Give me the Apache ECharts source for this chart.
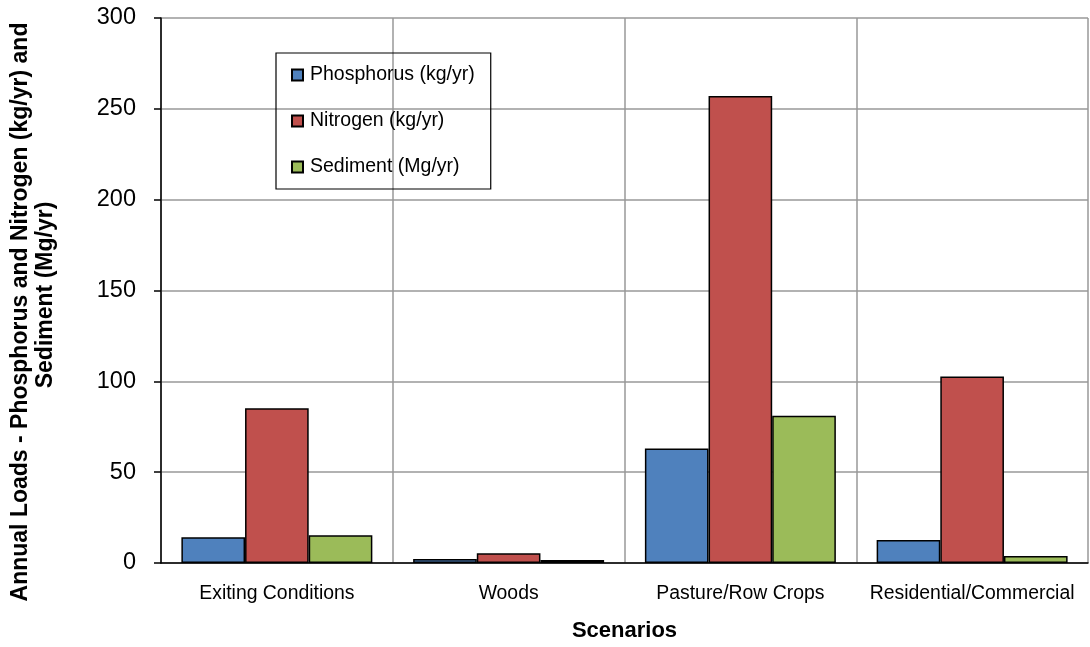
<!DOCTYPE html>
<html><head><meta charset="utf-8">
<script src="https://cdn.jsdelivr.net/npm/echarts@6/dist/echarts.min.js"></script>
<style>html,body{margin:0;padding:0;background:#fff}#c{width:1090px;height:647px}</style>
</head><body><div id="c"></div>
<script>
const categories = ["Exiting Conditions", "Woods", "Pasture/Row Crops", "Residential/Commercial"];
const phosphorus = [14.2, 2.2, 63.0, 12.6];
const nitrogen = [85.2, 5.4, 257.0, 102.6];
const sediment = [15.3, 1.6, 81.0, 3.8];
const seriesNames = ["Phosphorus (kg/yr)", "Nitrogen (kg/yr)", "Sediment (Mg/yr)"];
const yTitle1 = "Annual Loads - Phosphorus and Nitrogen (kg/yr) and";
const yTitle2 = "Sediment (Mg/yr)";
const xTitle = "Scenarios";

const FONT = '"Liberation Sans", Arial, sans-serif';
const chart = echarts.init(document.getElementById('c'));
const colors = ['#4F81BD', '#C0504D', '#9BBB59'];
function mk(name, data, i) {
  return {
    name, type: 'bar', data, barGap: '0%', barCategoryGap: '17.6%',
    itemStyle: { color: colors[i], borderColor: '#000', borderWidth: 1.5 }
  };
}
chart.setOption({
  animation: false,
  textStyle: { fontFamily: FONT },
  grid: { left: 161, right: 2, top: 18, bottom: 81 },
  legend: {
    orient: 'vertical', left: 276, top: 53,
    padding: [11, 16, 11, 15], itemGap: 24,
    itemWidth: 11, itemHeight: 11, icon: 'rect',
    borderColor: '#000', borderWidth: 1.2,
    textStyle: { fontSize: 19.5, color: '#000', fontFamily: FONT, lineHeight: 22, padding: [0, 0, 0, 2] },
    data: seriesNames
  },
  xAxis: {
    type: 'category', data: categories,
    axisLine: { lineStyle: { color: '#000', width: 1.5 } },
    axisTick: { show: false },
    axisLabel: { color: '#000', fontSize: 19.4, margin: 21, interval: 0, fontFamily: FONT },
    splitLine: { show: true, interval: 0, lineStyle: { color: '#999', width: 1.5 } },
    name: xTitle, nameLocation: 'middle', nameGap: 57,
    nameTextStyle: { fontSize: 22, fontWeight: 'bold', color: '#000', fontFamily: FONT }
  },
  yAxis: {
    type: 'value', min: 0, max: 300, interval: 50,
    axisLine: { show: true, lineStyle: { color: '#000', width: 1.5 } },
    axisTick: { show: true, inside: false, length: 7, lineStyle: { color: '#000', width: 1.5 } },
    axisLabel: { color: '#000', fontSize: 23.5, margin: 25, fontFamily: FONT },
    splitLine: { show: true, lineStyle: { color: '#999', width: 1.5 } }
  },
  graphic: [
    { type: 'text', x: 21, y: 312, rotation: Math.PI / 2,
      style: { text: yTitle1, font: 'bold 23px ' + FONT, fill: '#000', align: 'center', verticalAlign: 'middle' } },
    { type: 'text', x: 46, y: 295, rotation: Math.PI / 2,
      style: { text: yTitle2, font: 'bold 23px ' + FONT, fill: '#000', align: 'center', verticalAlign: 'middle' } }
  ],
  series: [mk(seriesNames[0], phosphorus, 0), mk(seriesNames[1], nitrogen, 1), mk(seriesNames[2], sediment, 2)]
});
</script></body></html>
